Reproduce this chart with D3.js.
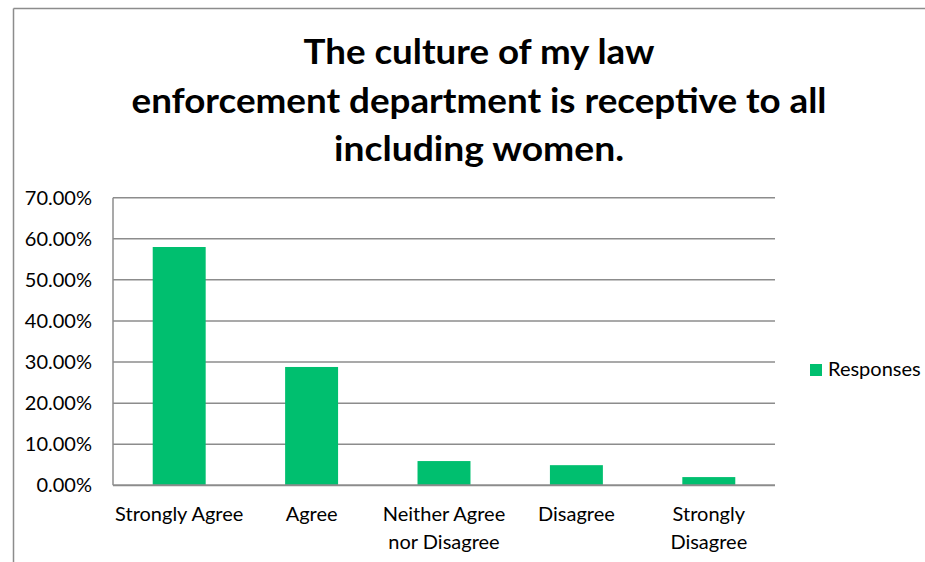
<!DOCTYPE html>
<html>
<head>
<meta charset="utf-8">
<script src="https://cdn.jsdelivr.net/npm/d3@7"></script>
<style>
  html, body { margin: 0; padding: 0; background: #fff; }
  svg { display: block; }
  text { font-family: Lato, "Open Sans", sans-serif; fill: #000; }
</style>
</head>
<body>
<svg id="chart" width="925" height="562"></svg>
<script>
// Survey responses
const categories = [["Strongly Agree"], ["Agree"], ["Neither Agree", "nor Disagree"], ["Disagree"], ["Strongly", "Disagree"]];
const seriesName = "Responses";
const values = [0.580, 0.288, 0.059, 0.049, 0.020];
const yTicks = [0, 0.1, 0.2, 0.3, 0.4, 0.5, 0.6, 0.7];
const titleLines = ["The culture of my law", "enforcement department is receptive to all", "including women."];

const barColor = "#00bf6f";
const gridColor = "#8c8c8c";

const svg = d3.select("#chart");
const margin = { left: 113, right: 775, top: 197.7, bottom: 485.3 };

// Outer chart frame (top and left edges visible)
svg.append("line").attr("x1", 13.5).attr("x2", 925).attr("y1", 8.5).attr("y2", 8.5)
  .attr("stroke", gridColor).attr("stroke-width", 1.5);
svg.append("line").attr("x1", 13.5).attr("x2", 13.5).attr("y1", 8.5).attr("y2", 562)
  .attr("stroke", gridColor).attr("stroke-width", 1.5);

// Title
const title = svg.append("g");
const titleWidths = [351, 695, 290];
titleLines.forEach((t, i) => {
  title.append("text")
    .attr("x", 479).attr("y", 64 + i * 48.5)
    .attr("text-anchor", "middle")
    .attr("font-size", 35).attr("font-weight", 700)
    .attr("textLength", titleWidths[i]).attr("lengthAdjust", "spacingAndGlyphs")
    .text(t);
});

const x = d3.scaleBand()
  .domain(d3.range(categories.length))
  .range([margin.left, margin.right])
  .paddingInner(0.6).paddingOuter(0.3);

const y = d3.scaleLinear().domain([0, 0.7]).range([margin.bottom, margin.top]);

// Gridlines
svg.append("g").selectAll("line").data(yTicks.filter(d => d > 0)).join("line")
  .attr("x1", margin.left).attr("x2", margin.right)
  .attr("y1", d => y(d)).attr("y2", d => y(d))
  .attr("stroke", gridColor).attr("stroke-width", 1.5);

// Bars
svg.append("g").selectAll("rect").data(values).join("rect")
  .attr("x", (d, i) => x(i)).attr("width", x.bandwidth())
  .attr("y", d => y(d)).attr("height", d => y(0) - y(d))
  .attr("fill", barColor);

// Axes lines
svg.append("line").attr("x1", margin.left).attr("x2", margin.left)
  .attr("y1", margin.top).attr("y2", margin.bottom)
  .attr("stroke", gridColor).attr("stroke-width", 1.5);
svg.append("line").attr("x1", margin.left).attr("x2", margin.right)
  .attr("y1", margin.bottom).attr("y2", margin.bottom)
  .attr("stroke", gridColor).attr("stroke-width", 2);

// Y tick labels
const fmt = d3.format(".2%");
svg.append("g").selectAll("text").data(yTicks).join("text")
  .attr("x", 92).attr("y", d => y(d)).attr("dy", "0.35em")
  .attr("text-anchor", "end").attr("font-size", 20)
  .text(d => fmt(d));

// Category labels
const xl = svg.append("g");
categories.forEach((lines, i) => {
  lines.forEach((l, j) => {
    xl.append("text")
      .attr("x", x(i) + x.bandwidth() / 2)
      .attr("y", 521 + j * 28)
      .attr("text-anchor", "middle").attr("font-size", 20)
      .text(l);
  });
});

// Legend
svg.append("rect").attr("x", 810).attr("y", 364).attr("width", 12).attr("height", 12).attr("fill", barColor);
svg.append("text").attr("x", 828).attr("y", 376).attr("font-size", 20).text(seriesName);
</script>
</body>
</html>
